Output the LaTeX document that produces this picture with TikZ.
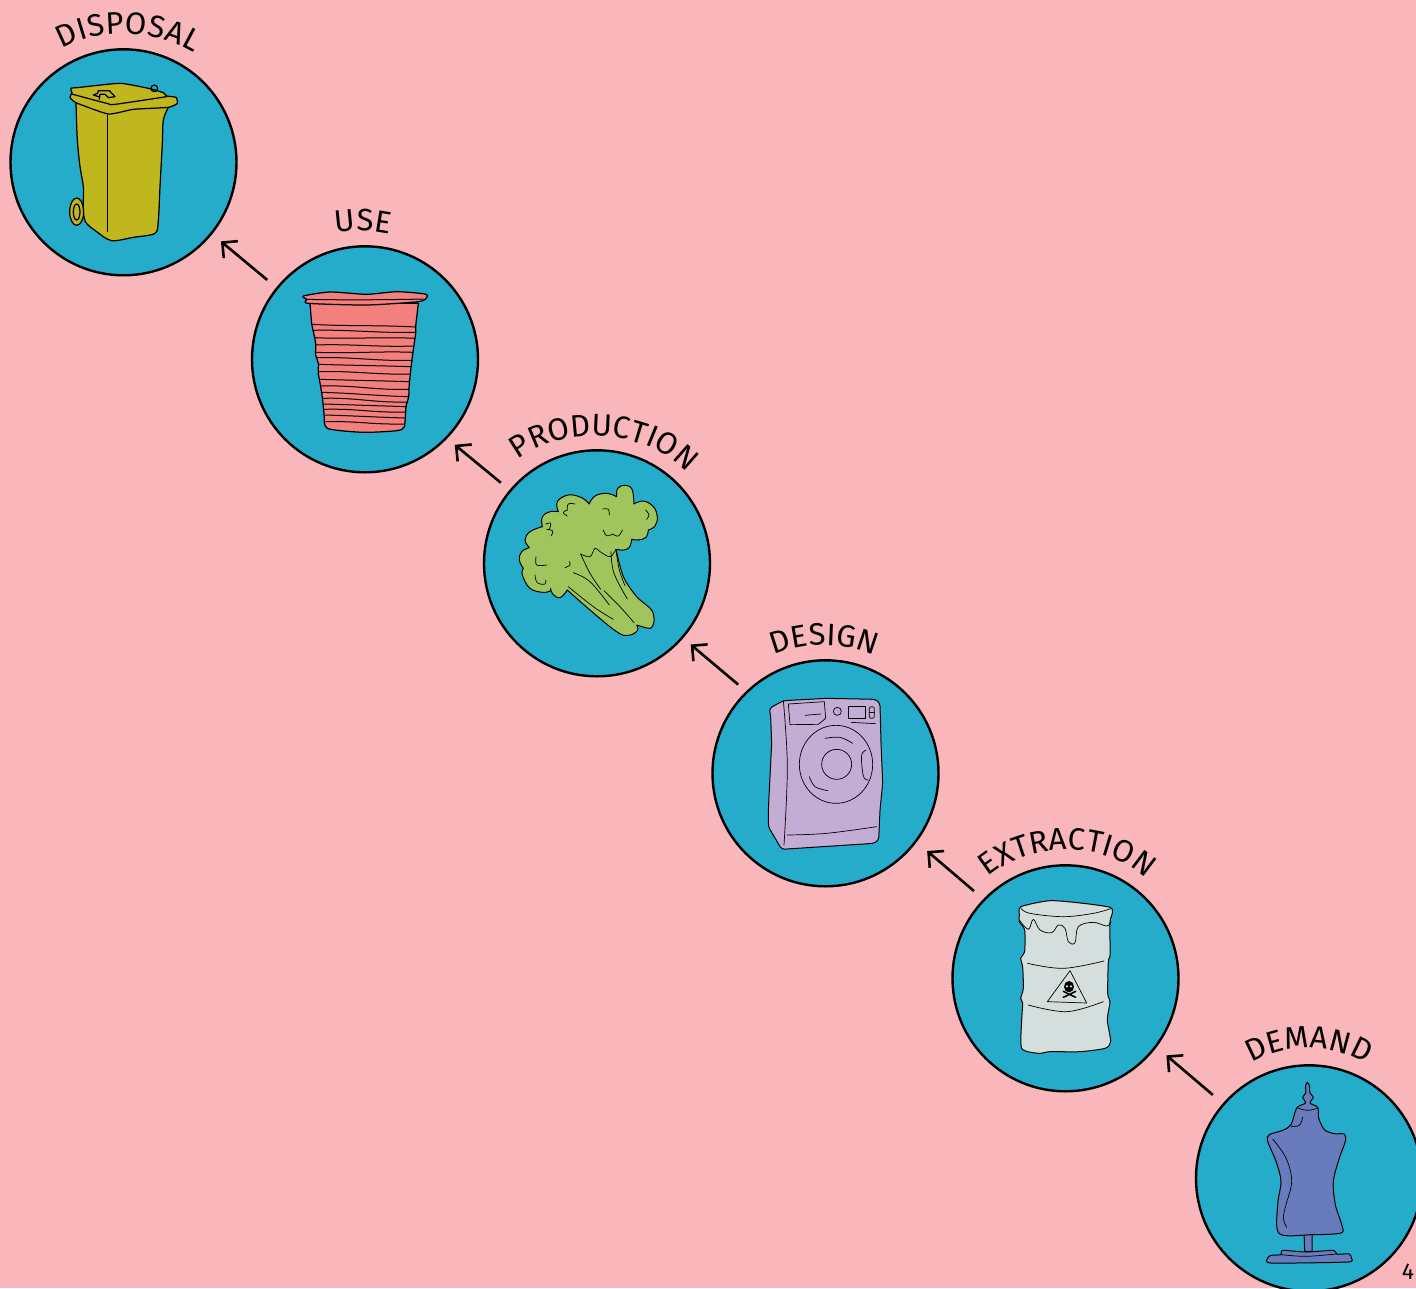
\documentclass[tikz,border=0pt]{standalone}
\usepackage{fontspec}
\setmainfont{Fira Sans}
\usetikzlibrary{arrows.meta,decorations.text}
\definecolor{bgpink}{RGB}{249,183,187}
\definecolor{hubblue}{RGB}{38,172,203}
\definecolor{binyellow}{RGB}{192,183,30}
\definecolor{cupred}{RGB}{243,128,125}
\definecolor{leafgreen}{RGB}{160,197,93}
\definecolor{washlilac}{RGB}{195,173,212}
\definecolor{drumgrey}{RGB}{212,222,220}
\definecolor{dressblue}{RGB}{104,124,189}
\newcommand{\lblfont}{\fontsize{31}{31}\selectfont}
\tikzset{
  hub/.style={circle,draw=black,fill=hubblue,line width=2.4pt,minimum size=226pt,inner sep=0pt,outer sep=0pt},
  flow/.style={draw=black,line width=2.6pt,-{Straight Barb[length=11pt,width=22pt,line width=2.6pt]}},
  arclabel/.style={decorate,decoration={text along path,text align=fit to path,text={|\lblfont|#1}}},
  zoomed/.style 2 args={shift={(#1,#2)},x=.33333pt,y=-.33333pt},
  ink/.style={draw=black,line width=1pt,line join=round,line cap=round},
  heavy/.style={draw=black,line width=1.25pt,line join=round,line cap=round},
  fine/.style={draw=black,line width=.7pt,line cap=round,line join=round},
  wavy/.style={smooth,tension=.6},
  lobe/.style={smooth,tension=.7},
}
\begin{document}
\begin{tikzpicture}[x=1pt,y=-1pt]
\useasboundingbox (0,0) rectangle (1416,1288);
\clip (0,0) rectangle (1416,1288);
\fill[bgpink] (0,0) rectangle (1416,1288);

\node[hub] (disposal) at (123.5,162.3) {};
\node[hub] (use) at (365,359.3) {};
\node[hub] (production) at (597,563.3) {};
\node[hub] (design) at (825.5,773.3) {};
\node[hub] (extraction) at (1065.5,978.3) {};
\node[hub] (demand) at (1309,1178.3) {};

\draw[flow,shorten <=13pt,shorten >=12.5pt] (use.141.5) -- (disposal.-39.7);
\draw[flow,shorten <=12.5pt,shorten >=11pt] (production.140.2) -- (use.-44);
\draw[flow,shorten <=11.5pt,shorten >=11pt] (design.134.8) -- (production.-41.4);
\draw[flow,shorten <=13.5pt,shorten >=15pt] (extraction.136.4) -- (design.-37.9);
\draw[flow,shorten <=14.3pt,shorten >=14pt] (demand.139.1) -- (extraction.-37.8);

\path[arclabel=DISPOSAL] (62,49) .. controls (100,27) and (155,29) .. (194,53);
\path[arclabel=USE] (336,233) .. controls (352,230) and (372,230) .. (389,234);
\path[arclabel=PRODUCTION] (518,460) .. controls (560,427) and (640,427) .. (683,469);
\path[arclabel=DESIGN] (774,655) .. controls (805,642) and (845,642) .. (874,655);
\path[arclabel=EXTRACTION] (988,877) .. controls (1030,841) and (1105,841) .. (1144,877);
\path[arclabel=DEMAND] (1252,1063) .. controls (1285,1043) and (1330,1043) .. (1363,1062);
\node[font=\fontsize{23}{23}\selectfont,inner sep=0pt] (pagenum) at (1408,1272) {4};

% wheelie bin
\begin{scope}[zoomed={0}{0}]
\path[heavy,fill=binyellow] (230,635) ellipse [x radius=21,y radius=41];
\path[heavy,fill=binyellow] (230,636) ellipse [x radius=10,y radius=24];
\draw[heavy,fill=binyellow] plot[smooth,tension=.5] coordinates {(228,310)(232,420)(240,500)(250,560)(250,620)(256,665)(290,695)(335,722)(400,712)(465,700)(475,660)(480,560)(487,430)(490,360)(505,322)} -- cycle;
\draw[heavy,fill=binyellow] plot[smooth cycle,tension=.3] coordinates {(212,265)(240,262)(360,250)(445,265)(490,278)(500,288)(528,292)(532,310)(505,322)(400,328)(325,342)(228,308)(210,292)(216,278)};
\draw[heavy] plot[smooth,tension=.4] coordinates {(215,282)(320,310)(345,313)(500,290)};
\draw[fine] (322,345) -- (322,695);
\draw[heavy] (280,285) -- (293,280) -- (295,272) -- (328,272) -- (345,290) -- (325,293) -- (315,283) -- (300,283) -- (298,298) (280,285) -- (296,290);
\draw[heavy] (463,265) circle [radius=10];
\end{scope}

% cup
\begin{scope}[zoomed={250}{200}]
\draw[heavy,fill=cupred] plot[smooth,tension=.4] coordinates {(180,310)(185,370)(190,395)(197,430)(197,465)(205,490)(205,520)(212,560)(218,600)(222,640)(232,685)(340,697)(440,692)(463,680)(468,620)(476,590)(478,550)(487,470)(497,400)(497,380)(505,310)} -- cycle;
\draw[heavy,fill=cupred] plot[smooth cycle,tension=.4] coordinates {(160,288)(240,276)(350,283)(440,275)(525,282)(530,293)(505,305)(350,315)(175,310)(170,298)};
\draw[ink] (170,298) .. controls (250,300) and (400,300) .. (520,297);
\foreach \ya/\yb/\xa/\xb/\w in {373/381/187/495/6,391/397/190/497/-3,413/415/195/495/5,435/438/197/490/-4,457/457/200/490/4,473/481/202/486/-3,493/500/205/484/3,515/522/208/482/-3,538/545/212/478/3,558/568/214/476/-3,577/590/216/474/3,595/606/218/474/-3,612/620/220/470/3,628/636/222/468/-3,645/654/225/466/3,665/672/228/464/-2}
  \draw[ink] (\xa,\ya) .. controls ({\xa+100},{\ya+\w}) and ({\xb-100},{\yb-\w}) .. (\xb,\yb);
\end{scope}

% broccoli
\begin{scope}[zoomed={480}{400}]
\draw[ink,fill=leafgreen] (410,290)
 -- plot[lobe] coordinates {(410,290)(413,265)(435,256)(456,268)(462,312)}
 -- plot[lobe] coordinates {(462,312)(490,303)(520,320)(532,350)(525,378)(505,390)}
 -- plot[lobe] coordinates {(505,390)(498,412)(475,420)(455,418)}
 -- plot[lobe] coordinates {(455,418)(448,442)(430,450)(408,448)}
 -- plot[smooth,tension=.5] coordinates {(408,448)(430,530)(470,590)(515,630)(522,665)(510,685)(470,675)}
 -- plot[lobe] coordinates {(470,675)(472,692)(445,706)(410,695)(330,630)(262,570)}
 -- plot[lobe] coordinates {(262,570)(240,593)(218,582)(212,565)}
 -- plot[lobe] coordinates {(212,572)(190,577)(150,565)(127,525)(130,505)}
 -- plot[lobe] coordinates {(130,505)(118,480)(125,455)(148,443)}
 -- plot[lobe] coordinates {(148,443)(135,420)(150,395)(187,380)}
 -- plot[lobe] coordinates {(187,380)(187,350)(210,335)(235,335)}
 -- plot[lobe] coordinates {(235,335)(232,305)(265,285)(305,293)(327,312)}
 -- plot[lobe] coordinates {(327,312)(345,288)(380,280)(410,290)} -- cycle;
\begin{scope}[every path/.style={fine}]
\draw plot[wavy] coordinates {(302,462)(330,470)(345,445)(360,455)(390,470)(408,448)};
\draw plot[wavy] coordinates {(302,462)(330,520)(362,568)};
\draw plot[wavy] coordinates {(280,518)(330,545)(388,615)};
\draw plot[wavy] coordinates {(265,560)(340,620)(400,658)};
\draw plot[wavy] coordinates {(372,572)(420,620)(462,668)};
\draw plot[wavy] coordinates {(393,455)(402,520)(442,597)};
\draw plot[wavy] coordinates {(408,450)(418,510)(435,557)};
\draw plot[lobe] coordinates {(285,312)(265,312)(262,330)};
\draw plot[lobe] coordinates {(262,330)(250,338)(262,348)};
\draw plot[wavy] coordinates {(368,327)(385,328)(388,345)};
\draw plot[lobe] coordinates {(370,390)(380,407)(398,402)};
\draw plot[lobe] coordinates {(398,402)(415,408)(427,390)};
\draw plot[lobe] coordinates {(197,372)(212,370)(208,388)};
\draw plot[lobe] coordinates {(200,388)(218,393)(213,408)};
\draw plot[wavy] coordinates {(497,330)(507,345)(500,358)};
\draw plot[wavy] coordinates {(168,470)(170,495)(200,495)};
\draw plot[lobe] coordinates {(165,525)(172,548)(195,552)(197,540)};
\draw plot[wavy] coordinates {(255,503)(270,495)(268,485)};
\end{scope}
\end{scope}

% washing machine
\begin{scope}[zoomed={710}{610}]
\draw[ink,fill=washlilac,rounded corners=3pt] (178,295) -- (220,272) -- (350,265) -- (497,268) -- (510,280) -- (513,400) -- (518,520) -- (510,600) -- (506,690) -- (492,700) -- (215,718) -- (175,650) -- (175,600) -- (185,400) -- (182,320) -- cycle;
\begin{scope}[every path/.style={fine}]
\draw plot[wavy] coordinates {(220,272)(232,470)(222,705)};
\draw (235,282) -- (343,275) -- (347,325) -- (325,343) -- (240,344) -- cycle;
\draw (285,316) -- (332,312);
\draw (382,304) circle [radius=12];
\draw (415,290) rectangle (467,325);
\draw[rounded corners=2pt] (478,290) rectangle (493,325);
\draw (478,308) -- (493,308);
\draw (423,337) -- (497,341);
\draw (378,463) ellipse [x radius=110,y radius=117];
\draw (380,463) circle [radius=45];
\draw plot[wavy] coordinates {(345,385)(390,382)(428,400)};
\draw plot[wavy] coordinates {(298,500)(315,530)(353,542)};
\draw plot[wavy] coordinates {(468,420)(455,435)(457,480)(463,505)(475,510)};
\draw plot[wavy] coordinates {(232,675)(350,670)(500,650)};
\end{scope}
\end{scope}

% drum
\begin{scope}[zoomed={950}{820}]
\draw[ink,fill=drumgrey] plot[smooth cycle,tension=.4] coordinates {(213,260)(300,242)(400,250)(480,262)(487,280)(480,305)(480,405)(475,425)(473,520)(480,545)(472,600)(482,665)(465,685)(390,695)(300,695)(265,700)(215,685)(215,600)(218,550)(212,535)(220,505)(218,440)(212,415)(224,395)(224,330)(208,305)(208,285)};
\begin{scope}[every path/.style={fine}]
\draw plot[wavy] coordinates {(213,265)(240,280)(340,290)(430,280)(485,265)};
\draw plot[wavy] coordinates {(208,300)(235,328)(250,298)(270,330)(305,338)(325,315)(345,325)(355,365)(375,368)(385,320)(430,307)(470,318)(483,305)};
\draw plot[wavy] coordinates {(233,430)(340,445)(462,423)};
\draw plot[wavy] coordinates {(235,555)(350,575)(460,545)};
\draw (360,452) -- (292,545) -- (410,549) -- cycle;
\end{scope}
\fill[black] (357,500) ellipse [x radius=15,y radius=17];
\fill[drumgrey] (351,499) circle [radius=3.5] (363,499) circle [radius=3.5];
\draw[black,line width=1.5pt,line cap=round] (340,514) -- (377,532) (377,514) -- (340,532);
\end{scope}

% mannequin
\begin{scope}[zoomed={1176}{1018}]
\draw[ink,fill=dressblue] (384,640) -- (408,640) -- (408,700) -- (386,700) -- cycle;
\draw[ink,fill=dressblue] plot[smooth cycle,tension=.35] coordinates {(320,697)(390,702)(473,697)(482,708)(520,708)(526,720)(515,732)(285,735)(275,720)(285,712)(315,710)};
\draw[ink,fill=dressblue] plot[smooth cycle,tension=.5] coordinates {(394,193)(400,203)(402,225)(412,238)(402,255)(425,268)(428,300)(445,335)(475,347)(505,348)(508,370)(490,420)(472,490)(478,560)(497,620)(495,645)(408,650)(310,647)(305,560)(315,490)(300,430)(275,370)(280,350)(320,337)(345,320)(362,270)(388,255)(380,238)(389,225)(389,203)};
\begin{scope}[every path/.style={fine}]
\draw plot[wavy] coordinates {(365,270)(395,277)(428,270)};
\draw plot[wavy] coordinates {(345,325)(370,322)(380,298)};
\draw plot[wavy] coordinates {(290,363)(330,420)(347,490)(330,560)(322,600)(332,628)};
\draw plot[wavy] coordinates {(315,710)(390,715)(480,708)};
\end{scope}
\end{scope}
\end{tikzpicture}
\end{document}
